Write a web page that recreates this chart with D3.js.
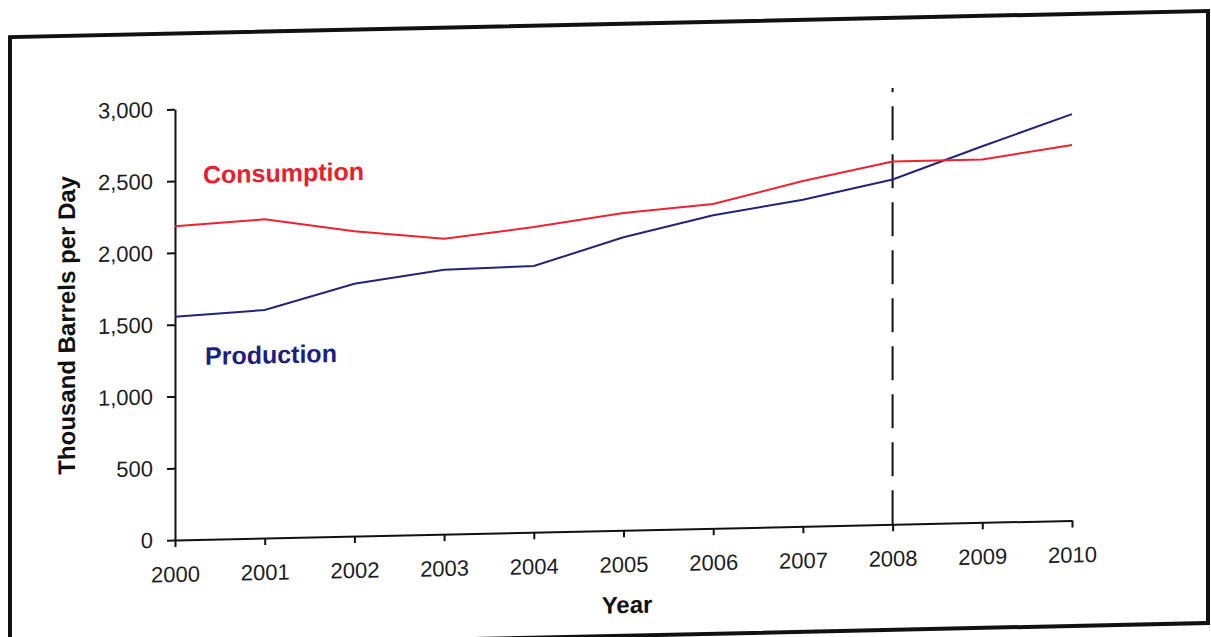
<!DOCTYPE html>
<html>
<head>
<meta charset="utf-8">
<script src="https://cdn.jsdelivr.net/npm/d3@7"></script>
<style>
  html, body { margin: 0; padding: 0; background: #ffffff; }
  svg { display: block; }
  text { font-family: "Liberation Sans", Arial, Helvetica, sans-serif; }
</style>
</head>
<body>
<svg id="chart" width="1211" height="637"></svg>
<script>
// Oil production and consumption, thousand barrels per day
const years = [2000, 2001, 2002, 2003, 2004, 2005, 2006, 2007, 2008, 2009, 2010];
const consumption = [2185, 2220, 2124, 2058, 2125, 2210, 2258, 2405, 2528, 2528, 2615];
const production = [1555, 1588, 1758, 1841, 1854, 2040, 2180, 2275, 2402, 2620, 2830];
const yTicks = [0, 500, 1000, 1500, 2000, 2500, 3000];
const forecastYear = 2008;
const forecastTop = 3040;

const svg = d3.select("#chart");

// the printed page sits at a slight slant
const page = svg.append("g")
  .attr("transform", "translate(175,540) skewY(-1.25) translate(-175,-540)");

// page frame
page.append("rect")
  .attr("x", 10).attr("y", 33.5)
  .attr("width", 1198).attr("height", 612)
  .attr("fill", "none")
  .attr("stroke", "#111")
  .attr("stroke-width", 4);

const x = d3.scalePoint().domain(years).range([175, 1072]);
const y = d3.scaleLinear().domain([0, 3000]).range([540, 109.3]);

// y axis
const yAxis = page.append("g")
  .attr("transform", "translate(175,0)")
  .call(d3.axisLeft(y).tickValues(yTicks).tickFormat(d3.format(","))
    .tickSize(8).tickSizeOuter(0).tickPadding(14));
yAxis.select(".domain").attr("stroke", "#111").attr("stroke-width", 2);
yAxis.selectAll(".tick line").attr("stroke", "#111").attr("stroke-width", 2);
yAxis.selectAll("text")
  .attr("fill", "#1c1c24")
  .style("font-size", "22px");

// x axis
const xAxis = page.append("g")
  .attr("transform", "translate(0,540)")
  .call(d3.axisBottom(x).tickSize(7).tickSizeOuter(0));
xAxis.select(".domain").attr("stroke", "#111").attr("stroke-width", 2);
xAxis.selectAll(".tick line").attr("stroke", "#111").attr("stroke-width", 2);
xAxis.selectAll("text")
  .attr("y", 42).attr("dy", 0)
  .attr("fill", "#1c1c24")
  .style("font-size", "22px");

// axis titles
page.append("text")
  .attr("transform", "translate(75,323) rotate(-90)")
  .attr("text-anchor", "middle")
  .attr("fill", "#111")
  .style("font-size", "24px")
  .style("font-weight", "bold")
  .text("Thousand Barrels per Day");

page.append("text")
  .attr("x", 627).attr("y", 623)
  .attr("text-anchor", "middle")
  .attr("fill", "#111")
  .style("font-size", "24px")
  .style("font-weight", "bold")
  .text("Year");

// forecast divider
page.append("line")
  .attr("x1", x(forecastYear)).attr("x2", x(forecastYear))
  .attr("y1", y(0)).attr("y2", y(forecastTop))
  .attr("stroke", "#111")
  .attr("stroke-width", 2)
  .attr("stroke-dasharray", "34,14");

// series lines
const line = d3.line()
  .x((d, i) => x(years[i]))
  .y(d => y(d));

page.append("path")
  .datum(production)
  .attr("d", line)
  .attr("fill", "none")
  .attr("stroke", "#23237a")
  .attr("stroke-width", 2);

page.append("path")
  .datum(consumption)
  .attr("d", line)
  .attr("fill", "none")
  .attr("stroke", "#ee2233")
  .attr("stroke-width", 2);

// series labels
page.append("text")
  .attr("x", 203).attr("y", 184)
  .attr("fill", "#e8202e")
  .style("font-size", "25px")
  .style("font-weight", "bold")
  .text("Consumption");

page.append("text")
  .attr("x", 205).attr("y", 365.5)
  .attr("fill", "#1e1e80")
  .style("font-size", "25px")
  .style("font-weight", "bold")
  .text("Production");
</script>
</body>
</html>
